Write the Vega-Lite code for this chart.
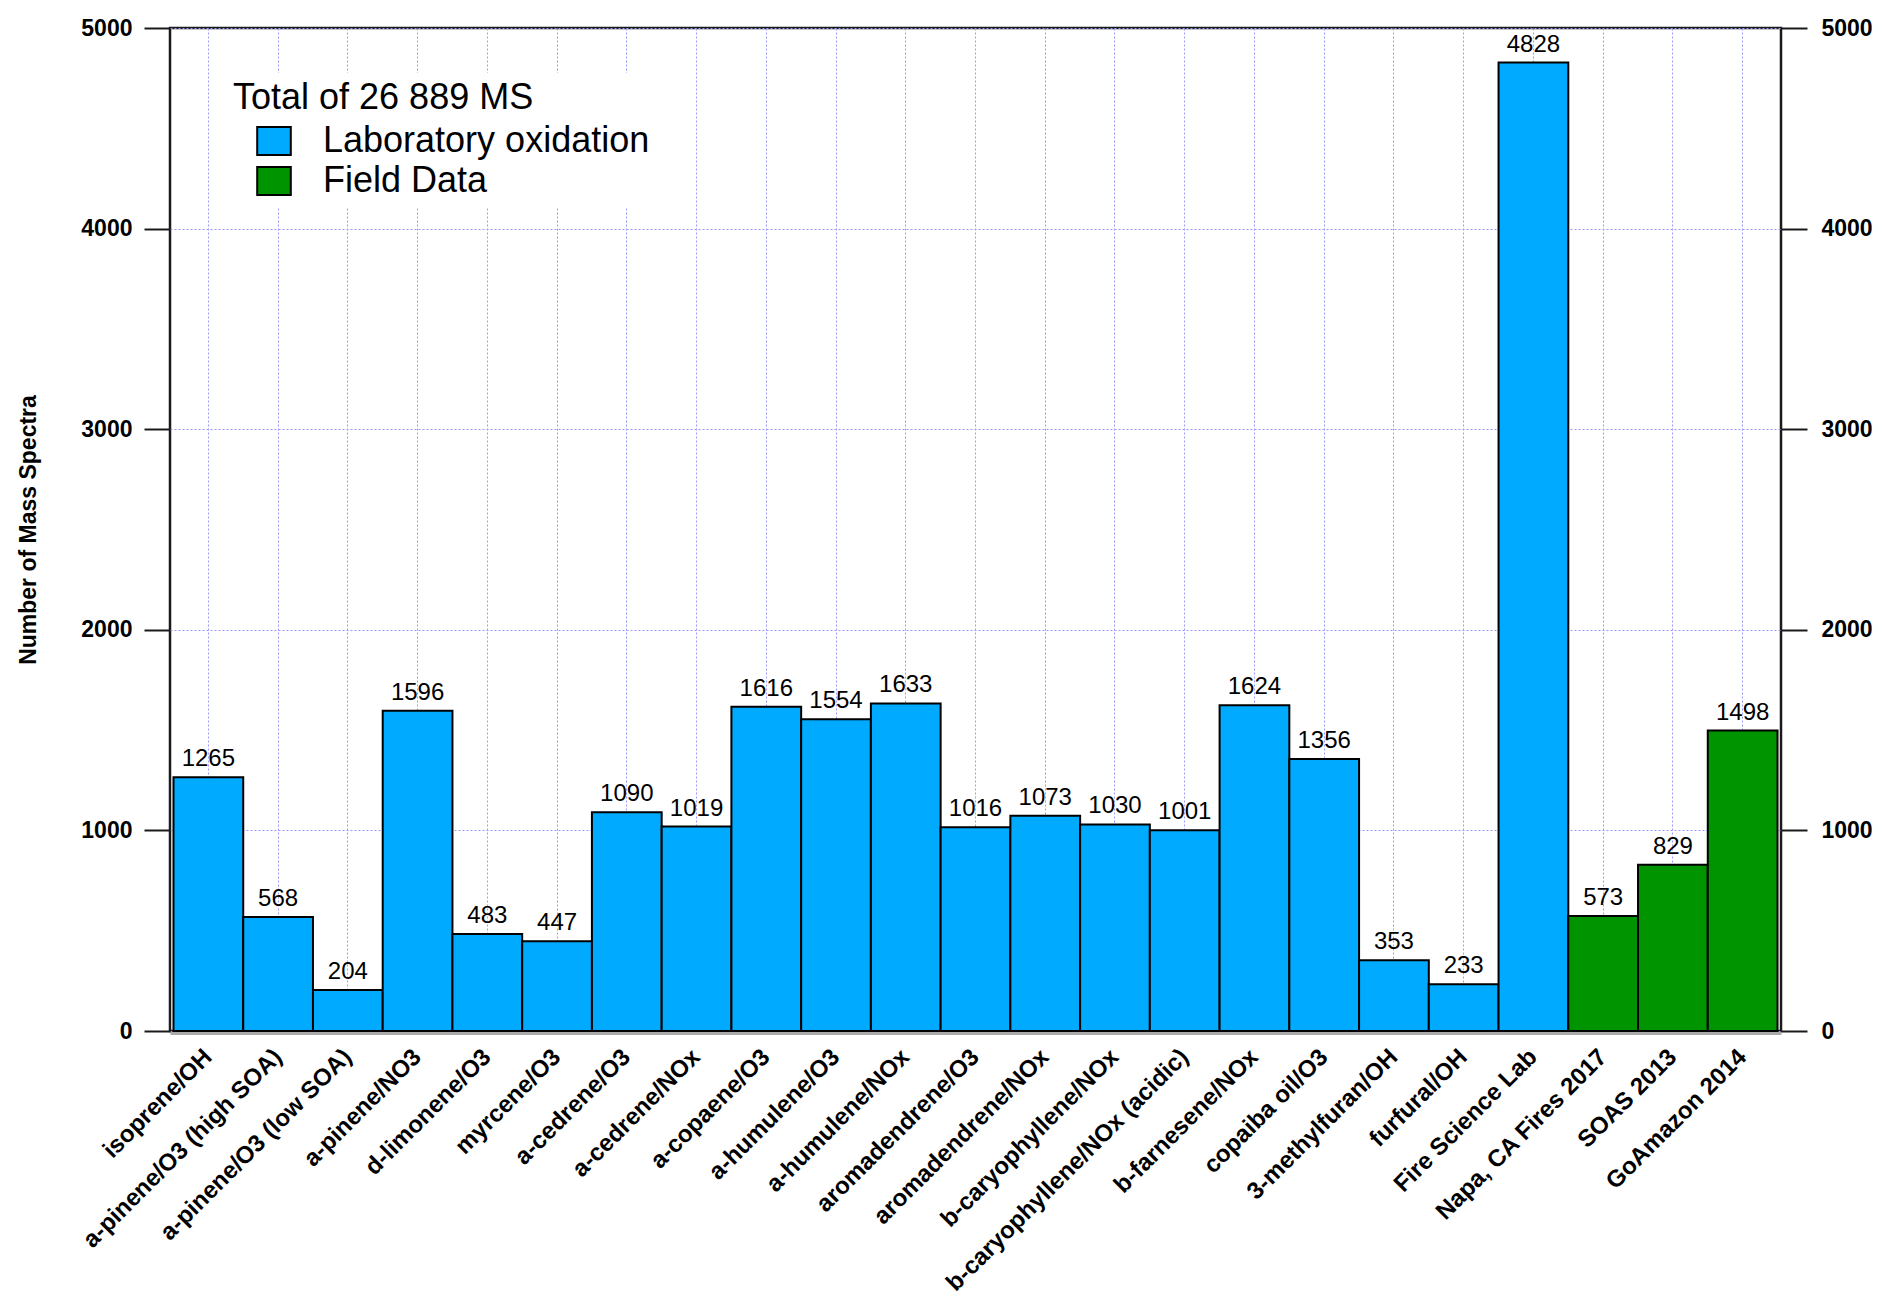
{
  "$schema": "https://vega.github.io/schema/vega-lite/v6.json",
  "width": 1611,
  "height": 1003,
  "autosize": {"type": "none"},
  "padding": {"left": 170, "top": 28, "right": 111, "bottom": 275},
  "background": "white",
  "config": {
    "font": "Liberation Sans",
    "view": {"stroke": "#1a1a1a", "strokeWidth": 2.5},
    "axis": {"gridColor": "#9a9aff", "gridDash": [2, 2], "gridWidth": 1, "gridOpacity": 1}
  },
  "data": {
    "values": [
      {"experiment": "isoprene/OH", "spectra": 1265, "source": "Laboratory oxidation"},
      {"experiment": "a-pinene/O3 (high SOA)", "spectra": 568, "source": "Laboratory oxidation"},
      {"experiment": "a-pinene/O3 (low SOA)", "spectra": 204, "source": "Laboratory oxidation"},
      {"experiment": "a-pinene/NO3", "spectra": 1596, "source": "Laboratory oxidation"},
      {"experiment": "d-limonene/O3", "spectra": 483, "source": "Laboratory oxidation"},
      {"experiment": "myrcene/O3", "spectra": 447, "source": "Laboratory oxidation"},
      {"experiment": "a-cedrene/O3", "spectra": 1090, "source": "Laboratory oxidation"},
      {"experiment": "a-cedrene/NOx", "spectra": 1019, "source": "Laboratory oxidation"},
      {"experiment": "a-copaene/O3", "spectra": 1616, "source": "Laboratory oxidation"},
      {"experiment": "a-humulene/O3", "spectra": 1554, "source": "Laboratory oxidation"},
      {"experiment": "a-humulene/NOx", "spectra": 1633, "source": "Laboratory oxidation"},
      {"experiment": "aromadendrene/O3", "spectra": 1016, "source": "Laboratory oxidation"},
      {"experiment": "aromadendrene/NOx", "spectra": 1073, "source": "Laboratory oxidation"},
      {"experiment": "b-caryophyllene/NOx", "spectra": 1030, "source": "Laboratory oxidation"},
      {"experiment": "b-caryophyllene/NOx (acidic)", "spectra": 1001, "source": "Laboratory oxidation"},
      {"experiment": "b-farnesene/NOx", "spectra": 1624, "source": "Laboratory oxidation"},
      {"experiment": "copaiba oil/O3", "spectra": 1356, "source": "Laboratory oxidation"},
      {"experiment": "3-methylfuran/OH", "spectra": 353, "source": "Laboratory oxidation"},
      {"experiment": "furfural/OH", "spectra": 233, "source": "Laboratory oxidation"},
      {"experiment": "Fire Science Lab", "spectra": 4828, "source": "Laboratory oxidation"},
      {"experiment": "Napa, CA Fires 2017", "spectra": 573, "source": "Field Data"},
      {"experiment": "SOAS 2013", "spectra": 829, "source": "Field Data"},
      {"experiment": "GoAmazon 2014", "spectra": 1498, "source": "Field Data"}
    ]
  },
  "encoding": {
    "x": {
      "field": "experiment",
      "type": "nominal",
      "sort": null,
      "scale": {"paddingInner": 0, "paddingOuter": 0.05},
      "axis": {
        "title": null,
        "labelAngle": -45,
        "labelAlign": "right",
        "labelBaseline": "middle",
        "labelFontSize": 24,
        "labelFontWeight": "bold",
        "labelColor": "black",
        "labelPadding": 20,
        "labelLimit": 0,
        "ticks": false,
        "domain": true,
        "domainColor": "#aaaaaa",
        "domainWidth": 3,
        "offset": 2,
        "grid": true,
        "bandPosition": 0.5
      }
    }
  },
  "layer": [
    {
      "mark": {"type": "bar", "stroke": "black", "strokeWidth": 2},
      "encoding": {
        "y": {
          "field": "spectra",
          "type": "quantitative",
          "scale": {"domain": [0, 5000], "nice": false},
          "axis": {
            "title": "Number of Mass Spectra",
            "values": [0, 1000, 2000, 3000, 4000, 5000],
            "format": "d",
            "labelFontSize": 23,
            "labelFontWeight": "bold",
            "labelColor": "black",
            "tickSize": 26,
            "tickWidth": 2,
            "tickColor": "#1a1a1a",
            "labelPadding": 12,
            "domain": false,
            "grid": true,
            "titleFontSize": 23,
            "titleFontWeight": "bold",
            "titleColor": "black",
            "titleX": -142,
            "titleY": 501.5,
            "titleAngle": -90,
            "titleAlign": "center",
            "titleBaseline": "middle"
          }
        },
        "color": {
          "field": "source",
          "type": "nominal",
          "scale": {"domain": ["Laboratory oxidation", "Field Data"], "range": ["#00aaff", "#009400"]},
          "legend": {
            "title": "Total of 26 889 MS",
            "orient": "none",
            "legendX": 55,
            "legendY": 45,
            "titleFontSize": 36,
            "titleFontWeight": "normal",
            "titleColor": "black",
            "titleFont": "Liberation Sans",
            "titleLimit": 0,
            "labelFont": "Liberation Sans",
            "labelFontSize": 36,
            "labelColor": "black",
            "symbolType": "M-1.2,-1H1.2V1H-1.2Z",
            "symbolSize": 784,
            "symbolStrokeColor": "black",
            "symbolStrokeWidth": 2,
            "symbolOffset": 23,
            "labelOffset": 31,
            "rowPadding": 4,
            "titlePadding": 6,
            "padding": 8,
            "fillColor": "white",
            "labelLimit": 0
          }
        }
      }
    },
    {
      "mark": {"type": "text", "baseline": "bottom", "dy": -6, "fontSize": 24, "color": "black"},
      "encoding": {
        "y": {"field": "spectra", "type": "quantitative", "axis": null},
        "text": {"field": "spectra", "type": "quantitative", "format": "d"}
      }
    },
    {
      "mark": {"type": "tick", "opacity": 0},
      "encoding": {
        "y": {
          "field": "spectra",
          "type": "quantitative",
          "axis": {
            "orient": "right",
            "title": null,
            "values": [0, 1000, 2000, 3000, 4000, 5000],
            "format": "d",
            "labelFontSize": 23,
            "labelFontWeight": "bold",
            "labelColor": "black",
            "tickSize": 26,
            "tickWidth": 2,
            "tickColor": "#1a1a1a",
            "labelPadding": 14,
            "domain": false,
            "grid": false
          }
        }
      }
    }
  ],
  "resolve": {"axis": {"y": "independent"}}
}
